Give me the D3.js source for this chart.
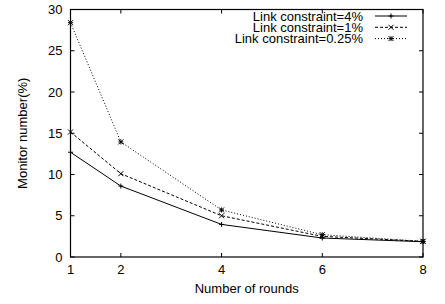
<!DOCTYPE html>
<html>
<head>
<meta charset="utf-8">
<script src="https://cdn.jsdelivr.net/npm/d3@7"></script>
<style>
body { margin: 0; background: #fff; }
text { font-family: "Liberation Sans", Arial, sans-serif; fill: #000; }
</style>
</head>
<body>
<script>
const rounds = [1, 2, 4, 6, 8]
const link4 = [12.7, 8.6, 3.95, 2.3, 1.85]
const link1 = [15.15, 10.1, 5.0, 2.5, 1.9]
const link025 = [28.4, 13.95, 5.7, 2.7, 1.9]
const seriesNames = ['Link constraint=4%', 'Link constraint=1%', 'Link constraint=0.25%']
const xTicks = [1, 2, 4, 6, 8]
const yTicks = [0, 5, 10, 15, 20, 25, 30]

const w = 445
const h = 304
const m = { left: 70.5, right: 22, top: 9.5, bottom: 47 }
const fs = 13

const svg = d3.select('body').append('svg')
    .attr('width', w)
    .attr('height', h)

const xScale = d3.scaleLinear().domain([1, 8]).range([m.left, w - m.right])
const yScale = d3.scaleLinear().domain([0, 30]).range([h - m.bottom, m.top])

const tickLen = 4
// frame
svg.append('rect')
    .attr('x', xScale(1)).attr('y', yScale(30))
    .attr('width', xScale(8) - xScale(1))
    .attr('height', yScale(0) - yScale(30))
    .attr('fill', 'none').attr('stroke', '#000').attr('stroke-width', 1.2)

// inward ticks, mirrored on top/right
const ax = svg.append('g').attr('stroke', '#000').attr('stroke-width', 1)
xTicks.forEach(t => {
    ax.append('line').attr('x1', xScale(t)).attr('x2', xScale(t))
        .attr('y1', yScale(0)).attr('y2', yScale(0) - tickLen)
    ax.append('line').attr('x1', xScale(t)).attr('x2', xScale(t))
        .attr('y1', yScale(30)).attr('y2', yScale(30) + tickLen)
})
yTicks.forEach(t => {
    ax.append('line').attr('x1', xScale(1)).attr('x2', xScale(1) + tickLen)
        .attr('y1', yScale(t)).attr('y2', yScale(t))
    ax.append('line').attr('x1', xScale(8)).attr('x2', xScale(8) - tickLen)
        .attr('y1', yScale(t)).attr('y2', yScale(t))
})

svg.selectAll('.xl').data(xTicks).enter().append('text')
    .attr('x', d => xScale(d)).attr('y', yScale(0) + 17)
    .attr('text-anchor', 'middle').attr('font-size', fs)
    .text(d => d)
svg.selectAll('.yl').data(yTicks).enter().append('text')
    .attr('x', xScale(1) - 8).attr('y', d => yScale(d) + 4.7)
    .attr('text-anchor', 'end').attr('font-size', fs)
    .text(d => d)

svg.append('text')
    .attr('x', (xScale(1) + xScale(8)) / 2).attr('y', 293)
    .attr('text-anchor', 'middle').attr('font-size', fs)
    .text('Number of rounds')
svg.append('text')
    .attr('transform', `translate(27,${(yScale(0) + yScale(30)) / 2}) rotate(-90)`)
    .attr('text-anchor', 'middle').attr('font-size', fs)
    .text('Monitor number(%)')

const styles = [
    { data: link4, dash: null, marker: 'plus' },
    { data: link1, dash: '3,2', marker: 'cross' },
    { data: link025, dash: '1,2', marker: 'star' }
]

const line = d3.line().x(d => xScale(d[0])).y(d => yScale(d[1]))

function drawMarker(g, type, x, y) {
    const s = 2.5
    if (type === 'plus' || type === 'star') {
        g.append('line').attr('x1', x - s).attr('x2', x + s).attr('y1', y).attr('y2', y)
        g.append('line').attr('x1', x).attr('x2', x).attr('y1', y - s).attr('y2', y + s)
    }
    if (type === 'cross' || type === 'star') {
        g.append('line').attr('x1', x - s).attr('x2', x + s).attr('y1', y - s).attr('y2', y + s)
        g.append('line').attr('x1', x - s).attr('x2', x + s).attr('y1', y + s).attr('y2', y - s)
    }
}

// legend text as one block, one line per series
const legendY = i => 16 + i * 11.3
const legendText = svg.append('text')
    .attr('text-anchor', 'end').attr('font-size', fs)

styles.forEach((st, i) => {
    const pts = rounds.map((r, j) => [r, st.data[j]])
    svg.append('path')
        .attr('d', line(pts))
        .attr('fill', 'none').attr('stroke', '#000').attr('stroke-width', 1)
        .attr('stroke-dasharray', st.dash)
    const g = svg.append('g').attr('stroke', '#000').attr('stroke-width', 1)
    pts.forEach(p => drawMarker(g, st.marker, xScale(p[0]), yScale(p[1])))

    const ly = legendY(i)
    legendText.append('tspan')
        .attr('x', 363).attr('y', ly + 4.7)
        .text(seriesNames[i])
    svg.append('line')
        .attr('x1', 375).attr('x2', 407).attr('y1', ly).attr('y2', ly)
        .attr('stroke', '#000').attr('stroke-width', 1)
        .attr('stroke-dasharray', st.dash)
    drawMarker(g, st.marker, 391, ly)
})
</script>
</body>
</html>
